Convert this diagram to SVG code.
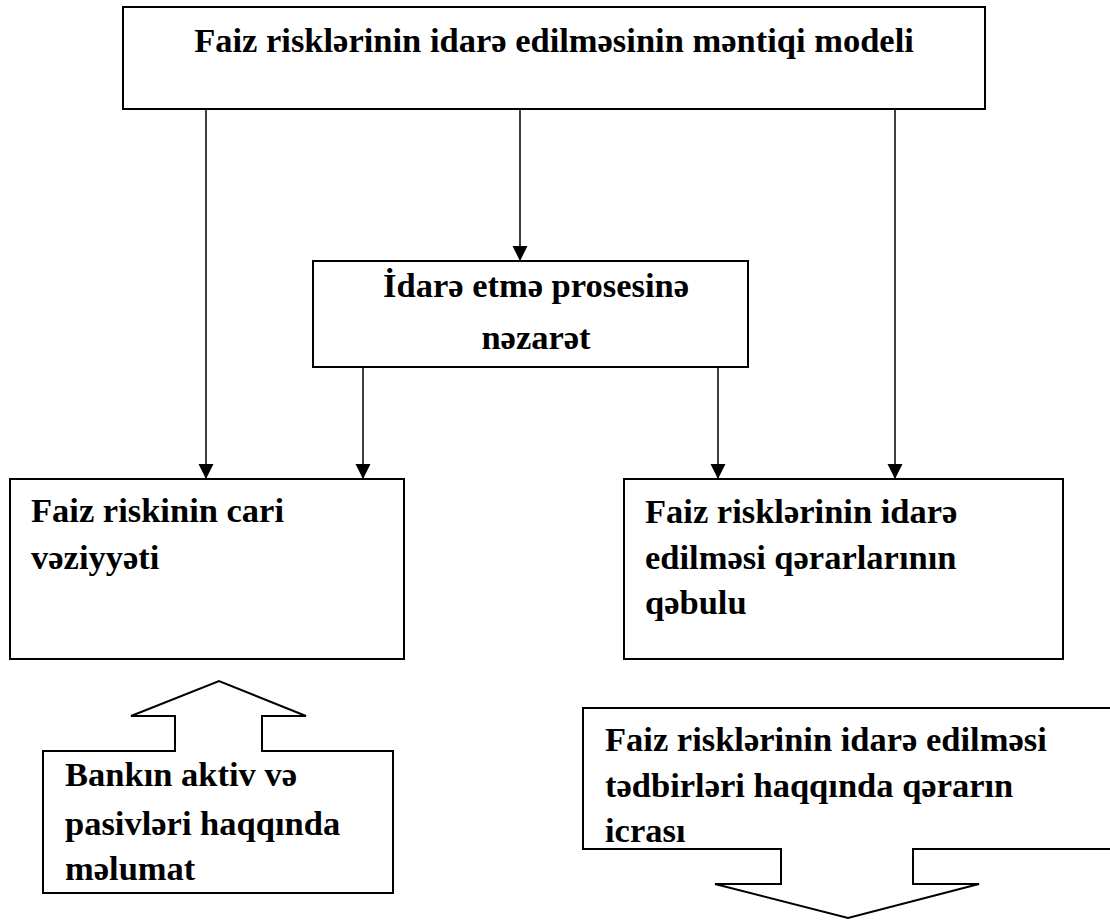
<svg xmlns="http://www.w3.org/2000/svg" width="1110" height="922" viewBox="0 0 1110 922">
<style>
.box{fill:#fff;stroke:#000;stroke-width:2}
.con{fill:none;stroke:#000;stroke-width:1.5}
text{font-family:'Liberation Serif','DejaVu Serif',serif;font-weight:700;font-size:34.5px;fill:#000}
.c{text-anchor:middle}
</style>
<defs>
<marker id="ah" markerUnits="userSpaceOnUse" markerWidth="16" markerHeight="16" viewBox="0 0 16 16" refX="15" refY="8" orient="auto">
<path d="M0,0.5 L15,8 L0,15.5 Z" fill="#000"/>
</marker>
</defs>
<rect width="1110" height="922" fill="#fff"/>
<g id="connectors">
<line class="con" x1="206" y1="109" x2="206" y2="479" marker-end="url(#ah)"/>
<line class="con" x1="520" y1="109" x2="520" y2="261" marker-end="url(#ah)"/>
<line class="con" x1="895" y1="109" x2="895" y2="479" marker-end="url(#ah)"/>
<line class="con" x1="363" y1="367" x2="363" y2="479" marker-end="url(#ah)"/>
<line class="con" x1="718" y1="367" x2="718" y2="479" marker-end="url(#ah)"/>
</g>
<g id="top">
<rect class="box" x="123" y="7" width="862" height="102"/>
<text class="c" x="554" y="52" font-family="Liberation Serif">Faiz risklərinin idarə edilməsinin məntiqi modeli</text>
</g>
<g id="control">
<rect class="box" x="313" y="261" width="435" height="106"/>
<text class="c" x="536" y="297" font-family="Liberation Serif">İdarə etmə prosesinə</text>
<text class="c" x="536" y="349" font-family="Liberation Serif">nəzarət</text>
</g>
<g id="current">
<rect class="box" x="10" y="479" width="394" height="180"/>
<text x="31" y="522" font-family="Liberation Serif">Faiz riskinin cari</text>
<text x="31" y="569" font-family="Liberation Serif">vəziyyəti</text>
</g>
<g id="decision">
<rect class="box" x="624" y="479" width="439" height="180"/>
<text x="645" y="523" font-family="Liberation Serif">Faiz risklərinin idarə</text>
<text x="645" y="569" font-family="Liberation Serif">edilməsi qərarlarının</text>
<text x="645" y="614" font-family="Liberation Serif">qəbulu</text>
</g>
<g id="info">
<path class="box" d="M43,751 L175,751 L175,716 L131,716 L219,681 L306,716 L262,716 L262,751 L393,751 L393,893 L43,893 Z"/>
<text x="65" y="786" font-family="Liberation Serif">Bankın aktiv və</text>
<text x="65" y="835" font-family="Liberation Serif">pasivləri haqqında</text>
<text x="65" y="880" font-family="Liberation Serif">məlumat</text>
</g>
<g id="execution">
<path class="box" d="M583,708 L1116,708 L1116,849 L913,849 L913,884 L979,884 L848,918 L715,884 L781,884 L781,849 L583,849 Z"/>
<text x="605" y="751" font-family="Liberation Serif">Faiz risklərinin idarə edilməsi</text>
<text x="605" y="797" font-family="Liberation Serif">tədbirləri haqqında qərarın</text>
<text x="605" y="842" font-family="Liberation Serif">icrası</text>
</g>
</svg>
